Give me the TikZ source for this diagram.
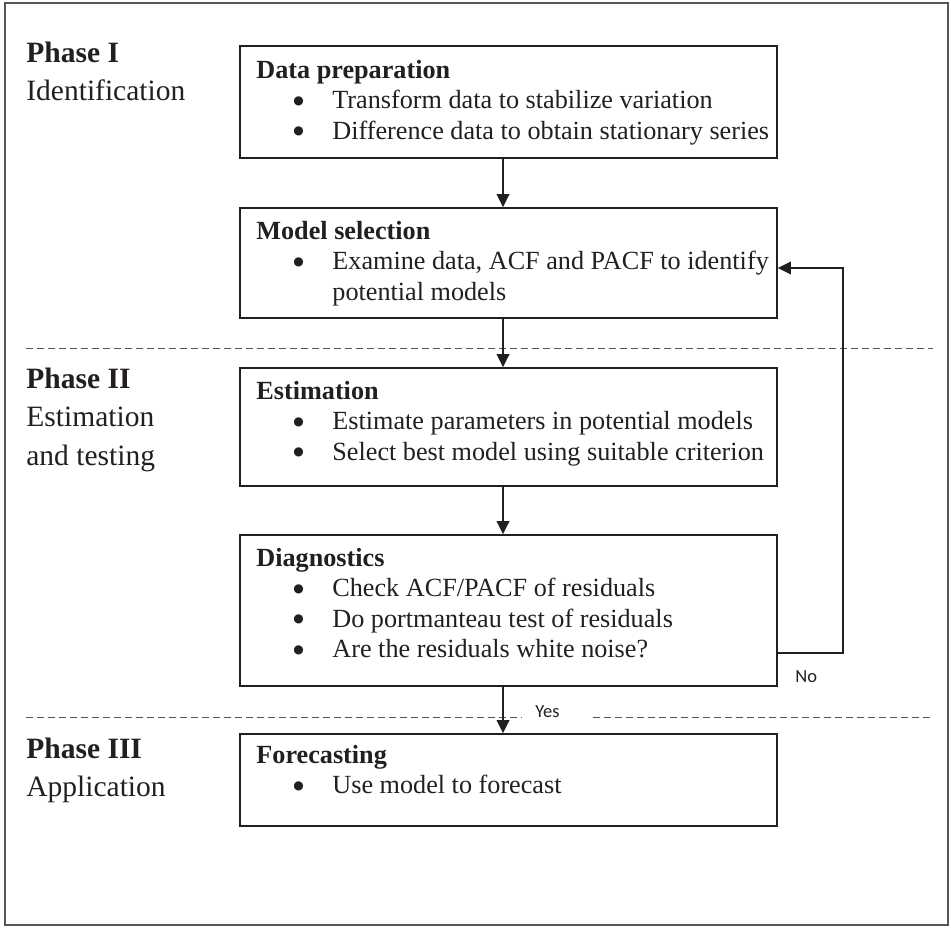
\documentclass[tikz,border=0pt]{standalone}
\usepackage{fontspec}
\setmainfont{Liberation Serif}
\newfontfamily\lblfont{Carlito}
\newfontfamily\symfont{DejaVu Sans}
\usetikzlibrary{arrows.meta}

\definecolor{ink}{HTML}{231F20}
\definecolor{framegray}{HTML}{555555}

% one line of a step box: heading or bulleted item
\newcommand\stephead[1]{\hbox{\bfseries #1}}
\newcommand\bigbullet{\raisebox{2.1pt}{\symfont\fontsize{6}{6}\selectfont ●}}
\newcommand\stepitem[1]{\hbox{\hspace*{18.5pt}\makebox[19.5pt][l]{\bigbullet}#1}}
\newcommand\steplines[1]{\vtop{\baselineskip=15.25pt\lineskiplimit=-20pt #1}}
\newcommand\phaselines[1]{\vtop{\baselineskip=19.25pt\lineskiplimit=-20pt #1}}

\begin{document}
\begin{tikzpicture}[x=0.5pt,y=-0.5pt,
  stepbox/.style={draw=ink,line width=0.8pt,inner sep=0pt,minimum width=268.5pt},
  steptext/.style={anchor=base west,inner sep=0pt,text=ink,font=\fontsize{13.1}{15.25}\selectfont},
  phasetext/.style={anchor=base west,inner sep=0pt,text=ink,font=\fontsize{14.75}{19.25}\selectfont},
  flow/.style={draw=ink,line width=0.8pt,-{Triangle[length=6.5pt,width=6.3pt]}},
  phasesep/.style={draw=framegray,line width=0.5pt,dash pattern=on 3.25pt off 2.25pt},
  lbl/.style={anchor=base west,inner sep=0pt,text=ink,font=\lblfont\fontsize{9.25}{11}\selectfont}]

\useasboundingbox (0,0) rectangle (951,927);
% outer frame
\draw[framegray,line width=0.8pt] (5,3) rectangle (948,925);

% phase separators
\draw[phasesep] (26,348) -- (933,348);
\draw[phasesep] (26,717) -- (522,717);
\draw[phasesep] (593,717) -- (933,717);

% phase captions
\node[phasetext] (ph1) at (26,62) {\phaselines{\hbox{\bfseries Phase I}\hbox{Identification}}};
\node[phasetext] (ph2) at (26,388) {\phaselines{\hbox{\bfseries Phase II}\hbox{Estimation}\hbox{and testing}}};
\node[phasetext] (ph3) at (26,758) {\phaselines{\hbox{\bfseries Phase III}\hbox{Application}}};

% step boxes
\node[stepbox,minimum height=56pt]   (dp)   at (508.5,102)   {};
\node[stepbox,minimum height=55pt]   (ms)   at (508.5,263)   {};
\node[stepbox,minimum height=59pt]   (est)  at (508.5,427)   {};
\node[stepbox,minimum height=75.5pt] (diag) at (508.5,610.5) {};
\node[stepbox,minimum height=46pt]   (fc)   at (508.5,780)   {};

% step contents
\node[steptext] (dptxt) at (256,78) {\steplines{%
  \stephead{Data preparation}
  \stepitem{Transform data to stabilize variation}
  \stepitem{Difference data to obtain stationary series}}};
\node[steptext] (mstxt) at (256,239) {\steplines{%
  \stephead{Model selection}
  \stepitem{Examine data, ACF and PACF to identify}
  \hbox{\hspace*{38pt}potential models}}};
\node[steptext] (esttxt) at (256,399) {\steplines{%
  \stephead{Estimation}
  \stepitem{Estimate parameters in potential models}
  \stepitem{Select best model using suitable criterion}}};
\node[steptext] (diagtxt) at (256,566) {\steplines{%
  \stephead{Diagnostics}
  \stepitem{Check ACF/PACF of residuals}
  \stepitem{Do portmanteau test of residuals}
  \stepitem{Are the residuals white noise?}}};
\node[steptext] (fctxt) at (256,763) {\steplines{%
  \stephead{Forecasting}
  \stepitem{Use model to forecast}}};

% flow between steps
\coordinate (ax) at (503,0);
\draw[flow] (dp.south -| ax) -- (ms.north -| ax);
\draw[flow] (ms.south -| ax) -- (est.north -| ax);
\draw[flow] (est.south -| ax) -- (diag.north -| ax);
\draw[flow] (diag.south -| ax) -- (fc.north -| ax);

% feedback loop when residuals are not white noise
\coordinate (fbA) at (843,653);
\coordinate (fbB) at (843,268);
\draw[flow] (diag.east |- fbA) -- (fbA) -- (fbB) -- (ms.east |- fbB);

% decision labels
\node[lbl] (no)  at (795,682) {No};
\node[lbl] (yes) at (535,717) {Yes};
\end{tikzpicture}
\end{document}
